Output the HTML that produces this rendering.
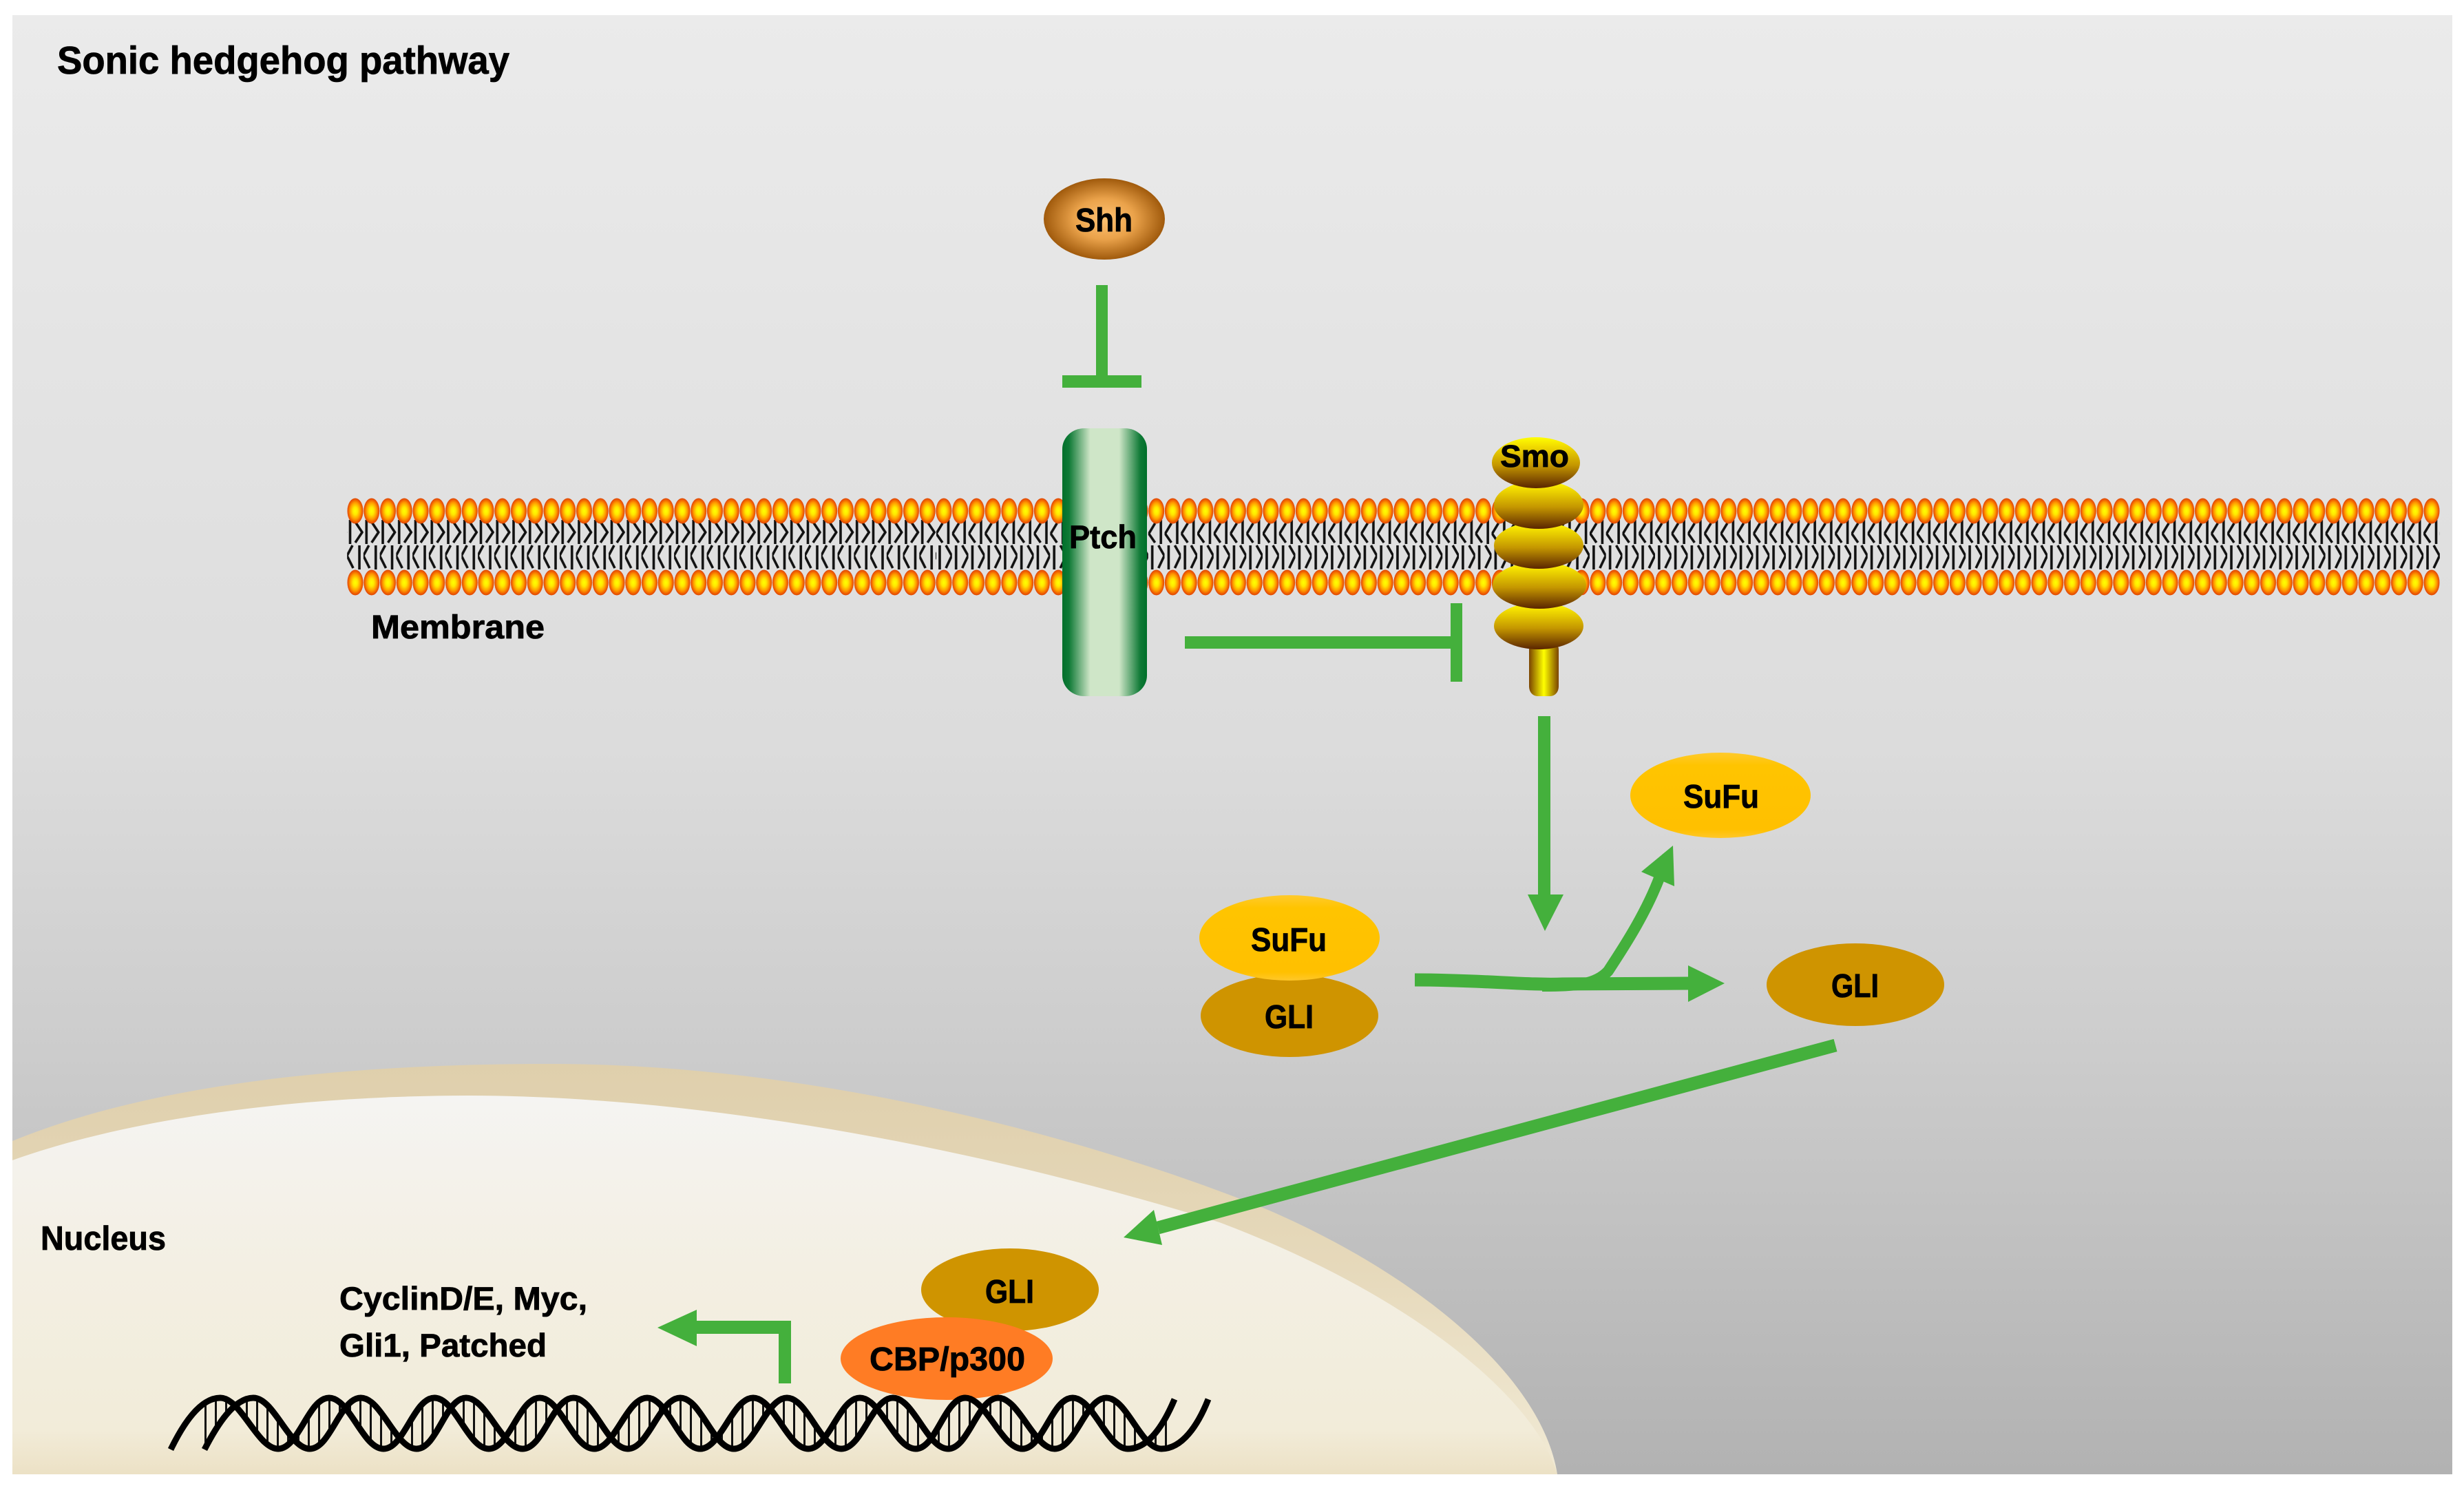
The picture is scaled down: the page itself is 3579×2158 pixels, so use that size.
<!DOCTYPE html>
<html>
<head>
<meta charset="utf-8">
<style>
html,body{margin:0;padding:0;background:#fff;}
svg{display:block;}
text{font-family:"Liberation Sans",sans-serif;font-weight:bold;fill:#000;stroke:#000;stroke-width:0.8px;}
</style>
</head>
<body>
<svg xmlns="http://www.w3.org/2000/svg" width="3579" height="2158" viewBox="0 0 3579 2158">
<defs>
<linearGradient id="bg" gradientUnits="userSpaceOnUse" x1="0" y1="22" x2="0" y2="2141">
<stop offset="0" stop-color="#ebebeb"/><stop offset="0.5" stop-color="#dcdcdc"/><stop offset="0.7" stop-color="#cdcdcd"/><stop offset="1" stop-color="#b2b2b2"/>
</linearGradient>
<linearGradient id="nucO" gradientUnits="userSpaceOnUse" x1="0" y1="1545" x2="0" y2="2141">
<stop offset="0" stop-color="#dfcfac"/><stop offset="0.5" stop-color="#e6d9bb"/><stop offset="1" stop-color="#f1ead5"/>
</linearGradient>
<linearGradient id="nucI" gradientUnits="userSpaceOnUse" x1="0" y1="1591" x2="0" y2="2141">
<stop offset="0" stop-color="#f5f4f2"/><stop offset="0.45" stop-color="#f3efe3"/><stop offset="0.88" stop-color="#f2ecd9"/><stop offset="1" stop-color="#ece1c5"/>
</linearGradient>
<radialGradient id="shh" cx="50%" cy="50%" r="50%">
<stop offset="0" stop-color="#ffc272"/><stop offset="0.5" stop-color="#eaa24a"/><stop offset="1" stop-color="#a05a0c"/>
</radialGradient>
<linearGradient id="ptch" x1="0" y1="0" x2="1" y2="0">
<stop offset="0" stop-color="#006f2a"/><stop offset="0.08" stop-color="#0f7a36"/><stop offset="0.33" stop-color="#cfe6c8"/><stop offset="0.67" stop-color="#cfe6c8"/><stop offset="0.92" stop-color="#0f7a36"/><stop offset="1" stop-color="#006f2a"/>
</linearGradient>
<linearGradient id="lobe" x1="0" y1="0" x2="0" y2="1">
<stop offset="0" stop-color="#ffff00"/><stop offset="0.15" stop-color="#f4e000"/><stop offset="0.55" stop-color="#c49600"/><stop offset="1" stop-color="#5a2500"/>
</linearGradient>
<linearGradient id="stem" x1="0" y1="0" x2="1" y2="0">
<stop offset="0" stop-color="#7a4400"/><stop offset="0.5" stop-color="#ffff00"/><stop offset="1" stop-color="#7a4400"/>
</linearGradient>
<linearGradient id="sufu" x1="0" y1="0" x2="0" y2="1">
<stop offset="0" stop-color="#ffca2c"/><stop offset="0.15" stop-color="#ffc400"/><stop offset="0.9" stop-color="#ffc000"/><stop offset="1" stop-color="#ffc72a"/>
</linearGradient>
<radialGradient id="head" cx="50%" cy="50%" r="50%">
<stop offset="0" stop-color="#ffff00"/><stop offset="0.3" stop-color="#ffe800"/><stop offset="0.65" stop-color="#ff9a00"/><stop offset="0.88" stop-color="#ee5c00"/><stop offset="1" stop-color="#dd4400"/>
</radialGradient>

<pattern id="pHead" patternUnits="userSpaceOnUse" x="504.13" y="720" width="23.748" height="150">
<ellipse cx="11.874" cy="22" rx="11.5" ry="18.5" fill="url(#head)"/>
<ellipse cx="11.874" cy="126" rx="11.5" ry="18.5" fill="url(#head)"/>
</pattern>
<pattern id="tailL" patternUnits="userSpaceOnUse" x="504.13" y="720" width="23.748" height="150">
<g fill="none" stroke="#111" stroke-width="3.6">
<line x1="4.4" y1="35" x2="4.4" y2="70"/>
<polyline points="11.9,38 21.9,53 11.9,68"/>
<line x1="17.9" y1="72" x2="17.9" y2="107"/>
<polyline points="7.9,72 -0.1,87 8.9,105"/>
</g>
</pattern>
<pattern id="tailR" patternUnits="userSpaceOnUse" x="504.13" y="720" width="23.748" height="150">
<g fill="none" stroke="#111" stroke-width="3.6">
<line x1="18.4" y1="35" x2="18.4" y2="70"/>
<polyline points="9.9,40 0.9,55 9.9,68"/>
<line x1="5.9" y1="72" x2="5.9" y2="107"/>
<polyline points="14.9,72 23.4,87 14.9,105"/>
</g>
</pattern>
<pattern id="rung" patternUnits="userSpaceOnUse" x="297" y="2000" width="15" height="120">
<rect x="0" y="0" width="3" height="120" fill="#111"/>
</pattern>
<clipPath id="dnaClip"><rect x="296" y="2026" width="1411" height="84"/></clipPath>
</defs>

<rect x="18" y="22" width="3544" height="2119" fill="url(#bg)"/>

<!-- Nucleus -->
<path d="M18,1657 C230,1570 520,1545 800,1545 C1200,1545 1600,1660 1837,1755 C2060,1850 2240,2000 2262,2141 L18,2141 Z" fill="url(#nucO)"/>
<path d="M18,1685 C200,1620 450,1591 680,1591 C1000,1591 1400,1660 1771,1775 C2050,1880 2230,2030 2262,2141 L18,2141 Z" fill="url(#nucI)"/>

<!-- Membrane -->
<rect x="504" y="750" width="856" height="80" fill="url(#tailL)"/>
<rect x="1360" y="750" width="2184" height="80" fill="url(#tailR)"/>
<rect x="504.13" y="720" width="3039.7" height="150" fill="url(#pHead)"/>

<!-- Ptch -->
<rect x="1543" y="622" width="123" height="389" rx="32" ry="30" fill="url(#ptch)"/>
<text x="1553" y="796" font-size="47" textLength="98" lengthAdjust="spacingAndGlyphs">Ptch</text>

<!-- Smo -->
<rect x="2221" y="930" width="43" height="81" rx="12" ry="14" fill="url(#stem)"/>
<ellipse cx="2235" cy="909" rx="65" ry="34" fill="url(#lobe)"/>
<ellipse cx="2236" cy="850" rx="68" ry="34" fill="url(#lobe)"/>
<ellipse cx="2235" cy="792" rx="65" ry="34" fill="url(#lobe)"/>
<ellipse cx="2235" cy="733" rx="65" ry="35" fill="url(#lobe)"/>
<ellipse cx="2231" cy="672" rx="64" ry="37" fill="url(#lobe)"/>
<text x="2179" y="678" font-size="45" textLength="100" lengthAdjust="spacingAndGlyphs">Smo</text>

<!-- Shh -->
<ellipse cx="1604" cy="318" rx="88" ry="59" fill="url(#shh)"/>
<text x="1562" y="336" font-size="48" textLength="83" lengthAdjust="spacingAndGlyphs">Shh</text>

<!-- Inhibition bars -->
<rect x="1592" y="414" width="17" height="135" fill="#44b03c"/>
<rect x="1543" y="545" width="115" height="18" fill="#44b03c"/>
<rect x="1721" y="924" width="390" height="18" fill="#44b03c"/>
<rect x="2107" y="876" width="17" height="114" fill="#44b03c"/>

<!-- Smo to cascade -->
<rect x="2234" y="1040" width="18" height="262" fill="#44b03c"/>
<polygon points="2219,1299 2271,1299 2244,1352" fill="#44b03c"/>

<!-- SuFu / GLI -->
<ellipse cx="2499" cy="1155" rx="131" ry="62" fill="url(#sufu)"/>
<text x="2445" y="1173" font-size="48" textLength="110" lengthAdjust="spacingAndGlyphs">SuFu</text>
<ellipse cx="1873" cy="1475" rx="129" ry="60" fill="#cf9400"/>
<text x="1837" y="1493" font-size="48" textLength="71" lengthAdjust="spacingAndGlyphs">GLI</text>
<ellipse cx="1873" cy="1362" rx="131" ry="62" fill="url(#sufu)"/>
<text x="1817" y="1381" font-size="48" textLength="110" lengthAdjust="spacingAndGlyphs">SuFu</text>
<ellipse cx="2695" cy="1430" rx="129" ry="60" fill="#cf9400"/>
<text x="2660" y="1448" font-size="48" textLength="69" lengthAdjust="spacingAndGlyphs">GLI</text>

<!-- Curved arrows -->
<path d="M2055,1423 C2150,1423 2220,1431 2270,1429 L2455,1428" fill="none" stroke="#44b03c" stroke-width="19"/>
<path d="M2240,1432 C2290,1432 2318,1430 2336,1410 C2352,1385 2390,1330 2412,1270" fill="none" stroke="#44b03c" stroke-width="16"/>
<polygon points="2452,1402 2505,1428 2452,1455" fill="#44b03c"/>
<polygon points="2430,1228 2384,1266 2432,1287" fill="#44b03c"/>

<!-- GLI to nucleus -->
<line x1="2666" y1="1518" x2="1682" y2="1783" stroke="#44b03c" stroke-width="19"/>
<polygon points="1632,1797 1676,1757 1688,1808" fill="#44b03c"/>

<!-- Nuclear complex -->
<ellipse cx="1467" cy="1873" rx="129" ry="60" fill="#cf9400"/>
<text x="1431" y="1892" font-size="48" textLength="71" lengthAdjust="spacingAndGlyphs">GLI</text>
<ellipse cx="1375" cy="1973" rx="154" ry="60" fill="#ff7c24"/>
<text x="1263" y="1990" font-size="48" textLength="226" lengthAdjust="spacingAndGlyphs">CBP/p300</text>

<!-- Bent arrow -->
<rect x="1131" y="1918" width="18" height="91" fill="#44b03c"/>
<rect x="1000" y="1918" width="149" height="19" fill="#44b03c"/>
<polygon points="955,1928 1012,1902 1012,1955" fill="#44b03c"/>

<!-- DNA -->
<path clip-path="url(#dnaClip)" fill="url(#rung)" fill-rule="evenodd" d="M248,2105 C265,2070 290,2030 320,2030 C350,2030 374,2104 404,2104 C434,2104 448,2030 478,2030 C508,2030 527,2104 557,2104 C587,2104 601,2030 631,2030 C661,2030 680,2104 710,2104 C740,2104 754,2030 784,2030 C814,2030 833,2104 863,2104 C893,2104 910,2030 940,2030 C970,2030 987,2104 1017,2104 C1047,2104 1064,2030 1094,2030 C1124,2030 1144,2104 1174,2104 C1204,2104 1219,2030 1249,2030 C1279,2030 1300,2104 1330,2104 C1360,2104 1372,2030 1402,2030 C1432,2030 1455,2104 1485,2104 C1515,2104 1528,2030 1558,2030 C1588,2030 1608,2104 1638,2104 C1668,2104 1690,2070 1706,2032 L1706,2000 L248,2000 Z M297,2105 C315,2070 340,2030 368,2030 C398,2030 420,2104 450,2104 C480,2104 494,2030 524,2030 C554,2030 575,2104 605,2104 C635,2104 647,2030 677,2030 C707,2030 729,2104 759,2104 C789,2104 803,2030 833,2030 C863,2030 882,2104 912,2104 C942,2104 958,2030 988,2030 C1018,2030 1036,2104 1066,2104 C1096,2104 1113,2030 1143,2030 C1173,2030 1192,2104 1222,2104 C1252,2104 1267,2030 1297,2030 C1327,2030 1347,2104 1377,2104 C1407,2104 1420,2030 1450,2030 C1480,2030 1502,2104 1532,2104 C1562,2104 1577,2030 1607,2030 C1637,2030 1657,2104 1687,2104 C1717,2104 1740,2070 1755,2032 L1755,2000 L297,2000 Z"/>
<path fill="none" stroke="#000" stroke-width="9" d="M248,2105 C265,2070 290,2030 320,2030 C350,2030 374,2104 404,2104 C434,2104 448,2030 478,2030 C508,2030 527,2104 557,2104 C587,2104 601,2030 631,2030 C661,2030 680,2104 710,2104 C740,2104 754,2030 784,2030 C814,2030 833,2104 863,2104 C893,2104 910,2030 940,2030 C970,2030 987,2104 1017,2104 C1047,2104 1064,2030 1094,2030 C1124,2030 1144,2104 1174,2104 C1204,2104 1219,2030 1249,2030 C1279,2030 1300,2104 1330,2104 C1360,2104 1372,2030 1402,2030 C1432,2030 1455,2104 1485,2104 C1515,2104 1528,2030 1558,2030 C1588,2030 1608,2104 1638,2104 C1668,2104 1690,2070 1706,2032"/>
<path fill="none" stroke="#000" stroke-width="9" d="M297,2105 C315,2070 340,2030 368,2030 C398,2030 420,2104 450,2104 C480,2104 494,2030 524,2030 C554,2030 575,2104 605,2104 C635,2104 647,2030 677,2030 C707,2030 729,2104 759,2104 C789,2104 803,2030 833,2030 C863,2030 882,2104 912,2104 C942,2104 958,2030 988,2030 C1018,2030 1036,2104 1066,2104 C1096,2104 1113,2030 1143,2030 C1173,2030 1192,2104 1222,2104 C1252,2104 1267,2030 1297,2030 C1327,2030 1347,2104 1377,2104 C1407,2104 1420,2030 1450,2030 C1480,2030 1502,2104 1532,2104 C1562,2104 1577,2030 1607,2030 C1637,2030 1657,2104 1687,2104 C1717,2104 1740,2070 1755,2032"/>

<!-- Labels -->
<text x="83" y="107" font-size="57" textLength="657" lengthAdjust="spacingAndGlyphs">Sonic hedgehog pathway</text>
<text x="539" y="927" font-size="48" textLength="252" lengthAdjust="spacingAndGlyphs">Membrane</text>
<text x="59" y="1815" font-size="49" textLength="182" lengthAdjust="spacingAndGlyphs">Nucleus</text>
<text x="493" y="1902" font-size="47" textLength="360" lengthAdjust="spacingAndGlyphs">CyclinD/E, Myc,</text>
<text x="493" y="1970" font-size="47" textLength="301" lengthAdjust="spacingAndGlyphs">Gli1, Patched</text>
</svg>
</body>
</html>
